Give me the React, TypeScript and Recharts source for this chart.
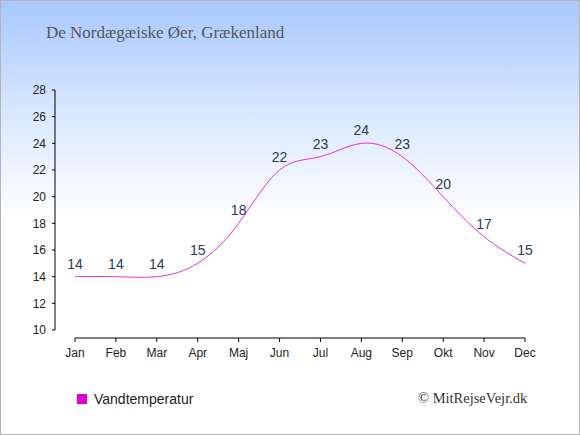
import { LineChart, Line, XAxis, YAxis, LabelList } from "recharts";

const MONTHS = ["Jan", "Feb", "Mar", "Apr", "Maj", "Jun", "Jul", "Aug", "Sep", "Okt", "Nov", "Dec"];
const WATER_TEMP = [14, 14, 14, 15, 18, 22, 23, 24, 23, 20, 17, 15];
const Y_TICKS = [10, 12, 14, 16, 18, 20, 22, 24, 26, 28];

const data = MONTHS.map((month, i) => ({ month, temp: WATER_TEMP[i] }));

const sans = "'Liberation Sans', Arial, sans-serif";
const serif = "'Liberation Serif', 'Times New Roman', serif";

export default function App() {
  return (
    <div
      style={{
        position: "absolute",
        top: 0,
        left: 0,
        width: 580,
        height: 435,
        boxSizing: "border-box",
        border: "1px solid #b4b4b4",
        background: "linear-gradient(to bottom, #a8c8ff 0%, #d8e6ff 25%, #ffffff 50%, #ffffff 100%)",
        overflow: "hidden",
      }}
    >
      <div
        style={{
          position: "absolute",
          left: 45,
          top: 22,
          fontFamily: serif,
          fontSize: 17,
          color: "#555",
          whiteSpace: "nowrap",
        }}
      >
        De Nordægæiske Øer, Grækenland
      </div>

      <div style={{ position: "absolute", left: -1, top: -1 }}>
        <LineChart width={580} height={435} data={data} margin={{ top: 90, right: 55, bottom: 67, left: 0 }}>
          <YAxis
            width={55}
            domain={[10, 28]}
            ticks={Y_TICKS}
            interval={0}
            padding={{ top: 0, bottom: 8 }}
            tickSize={3}
            tickMargin={6}
            axisLine={{ stroke: "#000", strokeDasharray: "240 1000" }}
            tickLine={{ stroke: "#000" }}
            tick={{ fill: "#222", fontSize: 12, fontFamily: sans }}
          />
          <XAxis
            dataKey="month"
            height={30}
            padding={{ left: 20, right: 0 }}
            interval={0}
            tickSize={4}
            tickMargin={6}
            axisLine={{ stroke: "#000", strokeDasharray: "0 20 1000" }}
            tickLine={{ stroke: "#000" }}
            tick={{ fill: "#222", fontSize: 12, fontFamily: sans }}
          />
          <Line
            type="natural"
            dataKey="temp"
            stroke="#e030e0"
            strokeWidth={1}
            dot={false}
            isAnimationActive={false}
          >
            <LabelList
              dataKey="temp"
              position="top"
              offset={8}
              fill="#2b3a55"
              fontSize={14}
              fontFamily={sans}
            />
          </Line>
        </LineChart>
      </div>

      <div
        style={{
          position: "absolute",
          left: 76,
          top: 390,
          display: "flex",
          alignItems: "center",
          fontFamily: sans,
          fontSize: 14,
          color: "#222",
        }}
      >
        <span style={{ display: "inline-block", width: 10, height: 10, background: "#dd00cc", marginRight: 7 }} />
        Vandtemperatur
      </div>

      <div
        style={{
          position: "absolute",
          left: 417,
          top: 389,
          fontFamily: serif,
          fontSize: 14.5,
          color: "#333",
          whiteSpace: "nowrap",
        }}
      >
        © MitRejseVejr.dk
      </div>
    </div>
  );
}
